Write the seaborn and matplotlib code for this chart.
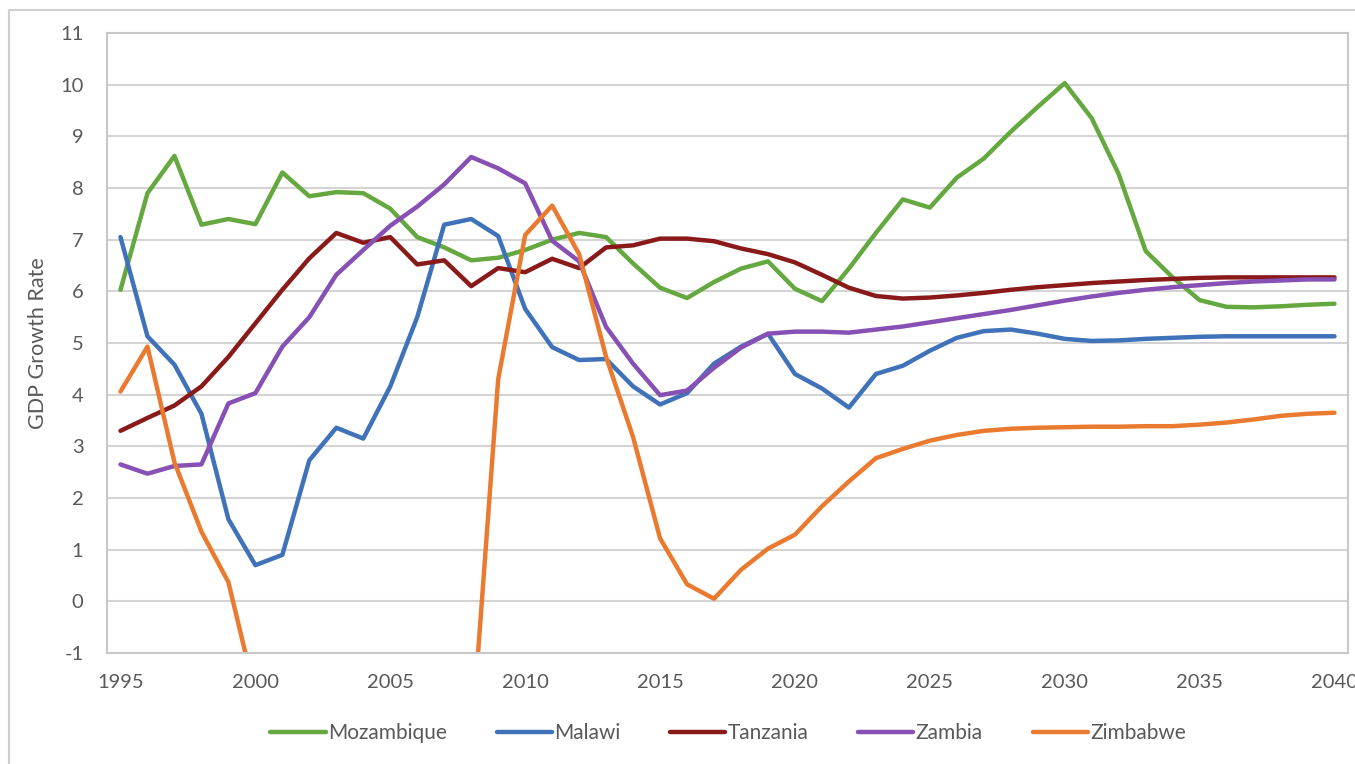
import pandas as pd
import matplotlib.pyplot as plt
import seaborn as sns
from matplotlib.lines import Line2D

# GDP growth rate, historic + projection, 1995-2040
years = list(range(1995, 2041))

mozambique = [6.03, 7.9, 8.62, 7.29, 7.4, 7.3, 8.3, 7.84, 7.92, 7.9,
              7.6, 7.05, 6.85, 6.6, 6.65, 6.8, 7.0, 7.13, 7.05, 6.54,
              6.07, 5.87, 6.18, 6.44, 6.58, 6.05, 5.81, 6.44, 7.13, 7.78,
              7.62, 8.2, 8.57, 9.09, 9.57, 10.03, 9.35, 8.27, 6.78, 6.27,
              5.83, 5.7, 5.69, 5.71, 5.74, 5.76]
malawi = [7.05, 5.13, 4.58, 3.63, 1.59, 0.7, 0.9, 2.73, 3.36, 3.15,
          4.16, 5.5, 7.29, 7.4, 7.07, 5.66, 4.92, 4.67, 4.69, 4.16,
          3.81, 4.03, 4.6, 4.93, 5.18, 4.4, 4.12, 3.75, 4.4, 4.56,
          4.85, 5.1, 5.23, 5.26, 5.18, 5.08, 5.04, 5.05, 5.08, 5.1,
          5.12, 5.13, 5.13, 5.13, 5.13, 5.13]
tanzania = [3.3, 3.55, 3.79, 4.16, 4.73, 5.38, 6.03, 6.64, 7.13, 6.94,
            7.05, 6.52, 6.6, 6.1, 6.45, 6.37, 6.63, 6.45, 6.85, 6.89,
            7.02, 7.02, 6.97, 6.83, 6.72, 6.56, 6.32, 6.07, 5.91, 5.86,
            5.88, 5.92, 5.97, 6.03, 6.08, 6.12, 6.16, 6.19, 6.22, 6.24,
            6.26, 6.27, 6.27, 6.27, 6.27, 6.27]
zambia = [2.65, 2.47, 2.62, 2.65, 3.83, 4.03, 4.93, 5.5, 6.32, 6.8,
          7.27, 7.64, 8.07, 8.6, 8.38, 8.09, 6.98, 6.58, 5.31, 4.6,
          3.99, 4.08, 4.52, 4.91, 5.18, 5.22, 5.22, 5.2, 5.26, 5.32,
          5.4, 5.48, 5.56, 5.64, 5.73, 5.82, 5.9, 5.97, 6.03, 6.08,
          6.12, 6.16, 6.19, 6.21, 6.23, 6.23]
# 2000-2008 fall below the axis floor and are clipped
zimbabwe = [4.06, 4.93, 2.69, 1.35, 0.37, -1.8, -2.7, -4.4, -10.4, -3.6,
            -4.1, -3.5, -3.7, -2.8, 4.3, 7.09, 7.66, 6.72, 4.73, 3.18,
            1.22, 0.33, 0.05, 0.61, 1.02, 1.29, 1.84, 2.32, 2.77, 2.95,
            3.11, 3.22, 3.3, 3.34, 3.36, 3.37, 3.38, 3.38, 3.39, 3.39,
            3.42, 3.46, 3.52, 3.59, 3.63, 3.65]

countries = ['Mozambique', 'Malawi', 'Tanzania', 'Zambia', 'Zimbabwe']
colors = ['#65A840', '#3F72B9', '#8A1A1A', '#8650B4', '#EA7A30']

df = pd.DataFrame({'year': years * 5,
                   'growth': mozambique + malawi + tanzania + zambia + zimbabwe,
                   'country': [c for c in countries for _ in years]})

sns.set_theme(style='white')
plt.rcParams['font.family'] = ['Lato', 'DejaVu Sans']
plt.rcParams['axes.unicode_minus'] = False
text_col = '#595959'
grid_col = '#D4D4D4'

fig = plt.figure(figsize=(13.55, 7.64), dpi=100)
ax = fig.add_axes([107/1355, 1-653/764, (1348-107)/1355, (653-33)/764])

sns.lineplot(data=df, x='year', y='growth', hue='country',
             hue_order=countries, palette=colors, linewidth=3.2, ax=ax,
             legend=False)

ax.set_xlim(1994.5, 2040.5)
ax.set_ylim(-1, 11)
ax.set_xticks(range(1995, 2041, 5))
ax.set_yticks(range(-1, 12))
ax.yaxis.grid(True, color=grid_col, linewidth=1.5)
ax.set_axisbelow(True)
for s in ax.spines.values():
    s.set_color('#C8C8C8')
    s.set_linewidth(1.5)
ax.tick_params(axis='both', length=0, labelsize=14.5, labelcolor=text_col)
ax.tick_params(axis='x', pad=15)
ax.tick_params(axis='y', pad=17)
ax.set_xlabel('')
ax.set_ylabel('GDP Growth Rate', fontsize=15.5, color=text_col, labelpad=9)

# legend below the axis
handles = [Line2D([0], [0], color=c, lw=3.2) for c in colors]
fig.legend(handles, countries, loc='center', bbox_to_anchor=(728/1355, 1-733/764),
           ncol=5, frameon=False, fontsize=15, labelcolor=text_col,
           handlelength=2.65, handletextpad=0.1, columnspacing=2.4)

# outer chart frame (left + top)
fig.add_artist(Line2D([9/1355, 9/1355], [0, 1-10/764], color='#D0D0D0', lw=1.5))
fig.add_artist(Line2D([9/1355, 1], [1-10/764, 1-10/764], color='#D0D0D0', lw=1.5))

plt.savefig('out.png', dpi=100)
